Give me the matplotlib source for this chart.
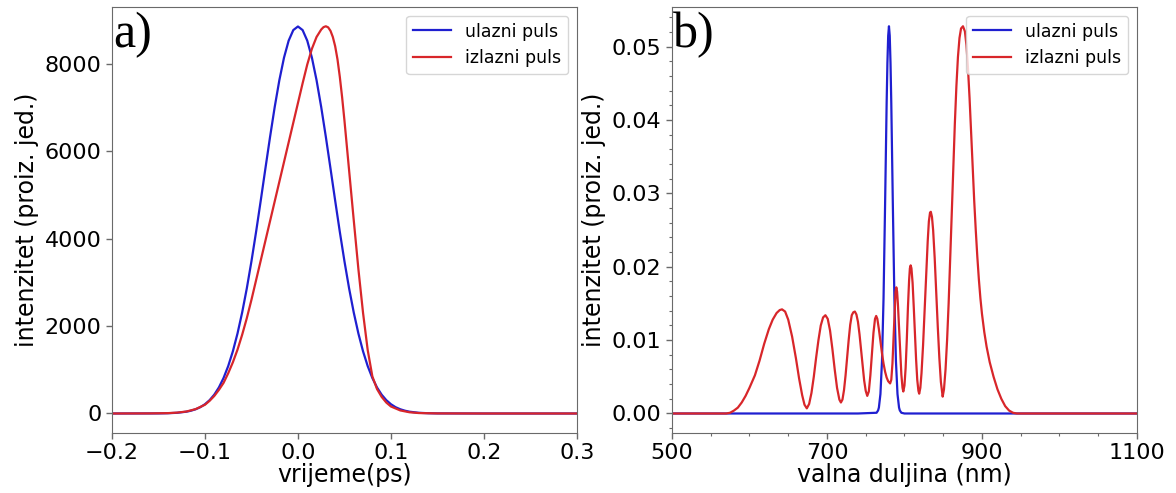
import matplotlib
matplotlib.use("Agg")
import matplotlib.pyplot as plt
from matplotlib.ticker import AutoMinorLocator

# ---------------- data ----------------
# panel a) : time domain
t_in = [-0.20, -0.15, -0.14, -0.13, -0.12, -0.115, -0.11, -0.105, -0.10, -0.095,
        -0.09, -0.085, -0.08, -0.075, -0.07, -0.065, -0.06, -0.055, -0.05, -0.045,
        -0.04, -0.035, -0.03, -0.025, -0.02, -0.015, -0.01, -0.005, 0.0,
        0.005, 0.01, 0.015, 0.02, 0.025, 0.03, 0.035, 0.04, 0.045, 0.05,
        0.055, 0.06, 0.065, 0.07, 0.075, 0.08, 0.085, 0.09, 0.095, 0.10,
        0.105, 0.11, 0.115, 0.12, 0.13, 0.14, 0.15, 0.20, 0.30]
I_in = [0, 2, 6, 16, 41, 64, 97, 144, 212, 305,
        430, 596, 812, 1084, 1421, 1829, 2309, 2861, 3481, 4156,
        4870, 5602, 6324, 7008, 7622, 8137, 8526, 8768, 8850,
        8768, 8526, 8137, 7622, 7008, 6324, 5602, 4870, 4156, 3481,
        2861, 2309, 1829, 1421, 1084, 812, 596, 430, 305, 212,
        144, 97, 64, 41, 16, 6, 2, 0, 0]

t_out = [-0.20, -0.16, -0.14, -0.13, -0.12, -0.11, -0.10, -0.095, -0.09, -0.085,
         -0.08, -0.075, -0.07, -0.065, -0.06, -0.055, -0.05, -0.045, -0.04, -0.035,
         -0.03, -0.025, -0.02, -0.015, -0.01, -0.005, 0.0, 0.005, 0.01, 0.015,
         0.02, 0.025, 0.0275, 0.03, 0.0325, 0.035, 0.0375, 0.04, 0.0425, 0.045,
         0.0475, 0.05, 0.055, 0.06, 0.065,
         0.07, 0.075, 0.08, 0.085, 0.09, 0.095, 0.10, 0.11, 0.12, 0.13,
         0.15, 0.20, 0.30]
I_out = [0, 2, 8, 20, 45, 100, 200, 290, 400, 540,
         700, 920, 1170, 1460, 1800, 2180, 2600, 3050, 3500, 3950,
         4400, 4850, 5300, 5750, 6200, 6650, 7100, 7550, 7980, 8340,
         8610, 8780, 8835, 8855, 8830, 8750, 8610, 8400, 8100, 7700,
         7230, 6700, 5560, 4420, 3300,
         2300, 1450, 850, 560, 380, 250, 160, 70, 28, 10,
         2, 0, 0]

# panel b) : spectral domain
lam_in = [500, 740, 764, 766, 767, 769, 771, 773, 775, 777, 778, 779, 780,
          781, 782, 783, 785, 787, 789, 791, 793, 794, 796, 800, 820, 1100]
S_in = [0, 0, 0.0001, 0.00042, 0.00081, 0.00266, 0.00714, 0.0157, 0.0285, 0.0423, 0.0478, 0.0515, 0.0528,
        0.0515, 0.0478, 0.0423, 0.0285, 0.0157, 0.00714, 0.00266, 0.00081, 0.00042, 0.0001, 0, 0, 0]

lam_out = [500, 570, 575, 580, 585, 590, 595, 600, 607, 613, 619, 625, 630, 635, 639, 642,
           646, 650, 655, 660, 664, 668, 671, 674,
           677, 680, 683, 686, 689, 692, 695, 698, 701, 704, 707, 710, 713, 716, 718,
           720, 722, 724, 726, 728, 730, 732, 734, 736, 738, 740, 742, 744, 746, 748, 750, 752,
           754, 756, 758, 760, 762, 763.5, 765, 767, 769, 771, 773, 775, 777, 779, 781.5,
           783, 784.5, 786, 787.5, 788.5, 789.5, 790.5, 791.5, 793, 794.5, 796, 797.5, 798.5,
           800, 801.5, 803, 804.5, 806, 807, 808, 809, 810.5, 812, 813.5, 815, 816.5, 818, 819,
           820.5, 822, 824, 826, 828, 830, 831.5, 833, 834, 835.5, 837, 839, 841, 843, 845, 847, 849.3,
           851, 853, 855, 857, 859, 861, 863, 865, 867, 869, 871, 873, 875.5, 878, 880, 882, 884,
           886, 888, 890, 892, 894, 896, 898, 900, 903, 906, 910, 915, 920, 925, 930, 935, 940, 945, 1100]
S_out = [0, 0, 0.0001, 0.0004, 0.0008, 0.0015, 0.0024, 0.0035, 0.0052, 0.0072, 0.0095, 0.0115, 0.0128, 0.0137, 0.0141, 0.0142,
         0.0139, 0.0128, 0.0105, 0.0075, 0.0048, 0.0025, 0.0012, 0.0007,
         0.0013, 0.0028, 0.0050, 0.0076, 0.0100, 0.0120, 0.0131, 0.0134, 0.0129, 0.0113, 0.0088, 0.0060, 0.0035, 0.0019, 0.0015,
         0.0019, 0.0032, 0.0052, 0.0076, 0.0100, 0.0121, 0.0134, 0.0138, 0.0139, 0.0135, 0.0125, 0.0108, 0.0087, 0.0065, 0.0045, 0.0031, 0.0024,
         0.0030, 0.0052, 0.0082, 0.0110, 0.0129, 0.0133, 0.0129, 0.0115, 0.0098, 0.0082, 0.0068, 0.0057, 0.0049, 0.0044, 0.0041,
         0.0046, 0.0068, 0.0105, 0.0145, 0.0166, 0.0172, 0.0166, 0.0150, 0.0117, 0.0083, 0.0053, 0.0035, 0.0030,
         0.0038, 0.0062, 0.0100, 0.0145, 0.0182, 0.0198, 0.0202, 0.0198, 0.0178, 0.0145, 0.0108, 0.0074, 0.0046, 0.0031, 0.0027,
         0.0035, 0.0055, 0.0093, 0.0140, 0.0190, 0.0235, 0.0262, 0.0274, 0.0275, 0.0268, 0.0250, 0.0212, 0.0165, 0.0118, 0.0076, 0.0043, 0.0023,
         0.0033, 0.0060, 0.0100, 0.0150, 0.0210, 0.0272, 0.0335, 0.0395, 0.0446, 0.0486, 0.0512, 0.0525, 0.0528, 0.0521, 0.0502, 0.0470, 0.0430,
         0.0385, 0.0337, 0.0290, 0.0250, 0.0214, 0.0183, 0.0157, 0.0136, 0.0111, 0.0091, 0.0070, 0.0050, 0.0033, 0.0020, 0.0010, 0.0004, 0.0001, 0.0, 0.0]

label_in = "ulazni puls"
label_out = "izlazni puls"
ylabel = "intenzitet (proiz. jed.)"
xlabel_a = "vrijeme(ps)"
xlabel_b = "valna duljina (nm)"
xticks_a = [-0.2, -0.1, 0.0, 0.1, 0.2, 0.3]
yticks_a = [0, 2000, 4000, 6000, 8000]
xticks_b = [500, 700, 900, 1100]
yticks_b = [0.00, 0.01, 0.02, 0.03, 0.04, 0.05]

# ---------------- figure ----------------
plt.rcParams['font.family'] = ['DejaVu Sans']
fig = plt.figure(figsize=(11.76, 4.93), dpi=100)
ax1 = fig.add_axes([0.0952, 0.122, 0.3954, 0.864])
ax2 = fig.add_axes([0.5714, 0.122, 0.3954, 0.864])

blue = '#1f1fd0'
red = '#d8262a'
spine_col = '#6a6a6a'

ax1.plot(t_in, I_in, color=blue, lw=1.6, label=label_in)
ax1.plot(t_out, I_out, color=red, lw=1.6, label=label_out)
ax1.set_xlim(-0.2, 0.3)
ax1.set_xticks(xticks_a)
ax1.set_yticks(yticks_a)
ax1.set_xlabel(xlabel_a, fontsize=17, labelpad=0)
ax1.set_ylabel(ylabel, fontsize=17, labelpad=4)

ax2.plot(lam_in, S_in, color=blue, lw=1.6, label=label_in)
ax2.plot(lam_out, S_out, color=red, lw=1.6, label=label_out)
ax2.set_xlim(500, 1100)
ax2.set_xticks(xticks_b)
ax2.set_yticks(yticks_b)
ax2.set_yticklabels([f"{v:.2f}" for v in yticks_b])
ax2.xaxis.set_minor_locator(AutoMinorLocator())
ax2.yaxis.set_minor_locator(AutoMinorLocator())
ax2.set_xlabel(xlabel_b, fontsize=17, labelpad=0)
ax2.set_ylabel(ylabel, fontsize=17, labelpad=4)

for ax, tag in ((ax1, 'a)'), (ax2, 'b)')):
    for s in ax.spines.values():
        s.set_color(spine_col)
    ax.tick_params(axis='both', which='major', labelsize=16, color=spine_col,
                   length=4, width=1)
    ax.tick_params(axis='both', which='minor', color=spine_col, length=2.5, width=0.8)
    ax.legend(loc='upper right', fontsize=12.5, handlelength=2.2, borderaxespad=0.5)
    ax.text(0.002, 0.99, tag, transform=ax.transAxes, ha='left', va='top',
            fontsize=36, family='Liberation Serif')

fig.savefig('out.png', dpi=100)
